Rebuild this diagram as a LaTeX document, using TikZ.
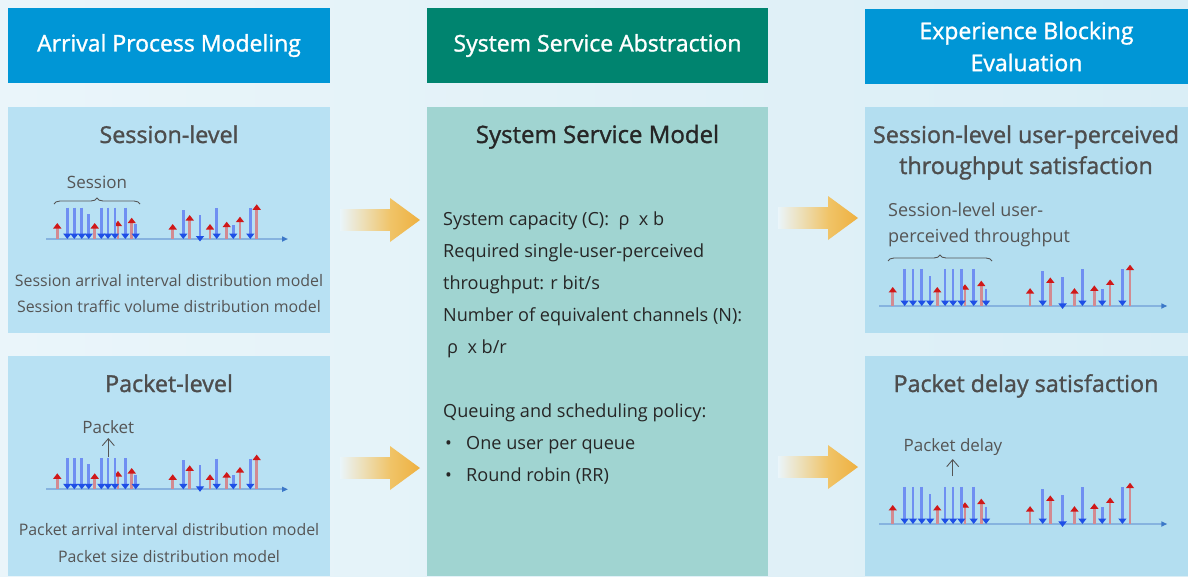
\documentclass[tikz,border=0pt]{standalone}
\usepackage{fontspec}
\setmainfont{Open Sans}
\newfontfamily\medfont{Open Sans}[FakeBold=1.3]
\usetikzlibrary{arrows.meta,decorations.pathreplacing}
\definecolor{hblue}{HTML}{0096D6}
\definecolor{hgreen}{HTML}{00846F}
\definecolor{lpanel}{HTML}{B8E1F3}
\definecolor{rpanel}{HTML}{B3DEF0}
\definecolor{tpanel}{HTML}{A0D4D1}
\definecolor{bgl}{HTML}{EAF5FA}
\definecolor{bgr}{HTML}{DAEEF6}
\definecolor{gtxt}{HTML}{555555}
\definecolor{ttl}{HTML}{4D4D4D}
\definecolor{dtxt}{HTML}{262626}
\definecolor{bstem}{HTML}{6F8FF2}
\definecolor{bhead}{HTML}{1E4FE6}
\definecolor{rstem}{HTML}{D38A91}
\definecolor{rhead}{HTML}{D01818}
\definecolor{axc}{HTML}{86B3DF}
\definecolor{axtip}{HTML}{3C78C8}
\definecolor{orj}{HTML}{EEB040}
\definecolor{orjl}{HTML}{F0C468}
\tikzset{
  hdr/.style={text=white, inner sep=0pt, outer sep=0pt, align=center, font=\medfont\fontsize{23}{32}\selectfont},
  panel/.style={inner sep=0pt, outer sep=0pt},
  ptitle/.style={anchor=base, inner sep=0pt, text=ttl, font=\medfont\fontsize{23.3}{30}\selectfont},
  mtitle/.style={anchor=base, inner sep=0pt, text=dtxt, font=\medfont\fontsize{24}{30}\selectfont},
  desc/.style={anchor=base, inner sep=0pt, text=gtxt, font=\fontsize{15.9}{20}\selectfont},
  body/.style={anchor=base west, inner sep=0pt, text=dtxt, font=\fontsize{18.1}{22}\selectfont},
  small/.style={anchor=base, inner sep=0pt, text=gtxt, font=\fontsize{17}{22}\selectfont},
  smallw/.style={anchor=base west, inner sep=0pt, text=gtxt, font=\fontsize{18}{22}\selectfont},
  redspike/.style={draw=rstem, line width=2.6pt, -{Triangle[length=5.5pt,width=8pt,color=rhead]}},
  bluespike/.style={draw=bstem, line width=2.6pt, -{Triangle[length=5.5pt,width=8pt,color=bhead]}},
  pointer/.style={draw=gtxt, line width=0.9pt, -{Straight Barb[length=7pt,width=12pt]}},
  bracep/.style={draw=gtxt, line width=0.9pt, decorate, decoration={brace, amplitude=6pt}},
  spikes/.pic={
    \draw[draw=axc, line width=2pt, -{Triangle[length=6pt,width=5pt,color=axtip]}] (0,0) -- (242,0);
    \foreach \x/\h in {11.3/16, 48.7/16, 72/18.3, 85.7/21.3, 126.7/15, 143.7/24, 164/15, 180.7/17.3, 194/22.3, 210.7/34.7}
      \draw[redspike] (\x,0) -- (\x,-\h);
    \foreach \x/\h in {21.3/31.3, 28.3/31.3, 35.7/31.3, 42.7/25, 55.3/31.3, 62/31.3, 69/31.3, 79.3/31.3, 89.7/14.7, 137.3/29, 170.7/30.7, 187.3/14, 204.3/30.7}
      \draw[bluespike] (\x,-\h) -- (\x,0);
    \draw[bluespike] (154,-24) -- (154,2.5);
  },
  bigarrow/.pic={
    \shade[left color=bgl, right color=orjl] (0,-10.5) rectangle (50.5,10.5);
    \shade[left color=orjl, right color=orj] (50,-22) -- (80,0) -- (50,22) -- cycle;
  }
}
\begin{document}
\begin{tikzpicture}[x=1pt,y=-1pt]
\shade[left color=bgl, right color=bgr] (0,0) rectangle (1188,576);
\useasboundingbox (0,0) rectangle (1188,576);

% headers
\node[hdr, fill=hblue, minimum width=322pt, minimum height=75pt] (h1) at (169,45.5) {Arrival Process Modeling};
\node[hdr, fill=hgreen, minimum width=341pt, minimum height=75pt] (h2) at (597.5,45.5) {System Service Abstraction};
\node[hdr, fill=hblue, minimum width=323pt, minimum height=75pt] (h3) at (1026.5,46.5) {Experience Blocking\\Evaluation};

% panels
\node[panel, fill=lpanel, minimum width=322pt, minimum height=226pt] (lt) at (169,220) {};
\node[panel, fill=lpanel, minimum width=322pt, minimum height=220pt] (lb) at (169,466) {};
\node[panel, fill=tpanel, minimum width=341pt, minimum height=469pt] (mid) at (597.5,341.5) {};
\node[panel, fill=rpanel, minimum width=323pt, minimum height=226pt] (rt) at (1026.5,220) {};
\node[panel, fill=rpanel, minimum width=323pt, minimum height=220pt] (rb) at (1026.5,466) {};

% big arrows
\pic at (340,220) {bigarrow};
\pic at (340,468) {bigarrow};
\pic at (778,218) {bigarrow};
\pic at (778,467) {bigarrow};

% left top
\node[ptitle] (t1) at (169,143) {Session-level};
\pic at (46,239) {spikes};
\node[small] (sess) at (97,188.5) {Session};
\coordinate (b1a) at (54,204);
\coordinate (b1b) at (140,204);
\draw[bracep] (b1a) -- (b1b);
\node[desc] (d1) at (169,286.5) {Session arrival interval distribution model};
\node[desc] (d2) at (169,312.5) {Session traffic volume distribution model};

% left bottom
\node[ptitle] (t2) at (169,392) {Packet-level};
\pic at (46,489.3) {spikes};
\node[small] (pkt) at (108.3,433.5) {Packet};
\coordinate (pktbase) at (108.3,457);
\draw[pointer] (pktbase) -- (pkt.south |- 0,438);
\node[desc] (d3) at (169,535.5) {Packet arrival interval distribution model};
\node[desc] (d4) at (169,562.5) {Packet size distribution model};

% middle
\node[mtitle] (t3) at (597.5,143) {System Service Model};
\node[body] (m1) at (443,225.5) {System capacity (C):\ \ ρ\ \ x b};
\node[body] (m2) at (443,257.5) {Required single-user-perceived};
\node[body] (m3) at (443,289) {throughput: r bit/s};
\node[body] (m4) at (443,321) {Number of equivalent channels (N):};
\node[body] (m5) at (447,353) {ρ\ \ x b/r};
\node[body] (m6) at (443,417) {Queuing and scheduling policy:};
\node[body] (m7) at (445,449) {•};
\node[body] (m8) at (466,449) {One user per queue};
\node[body] (m9) at (445,481) {•};
\node[body] (m10) at (466,481) {Round robin (RR)};

% right top
\node[ptitle] (t4) at (1026,143) {Session-level user-perceived};
\node[ptitle] (t5) at (1026,174) {throughput satisfaction};
\node[smallw] (s1) at (888,216) {Session-level user-};
\node[smallw] (s2) at (888,242) {perceived throughput};
\coordinate (b2a) at (888,261);
\coordinate (b2b) at (992,261);
\draw[bracep] (b2a) -- (b2b);
\pic[scale=1.19] at (879.3,306) {spikes};

% right bottom
\node[ptitle] (t6) at (1026,392) {Packet delay satisfaction};
\node[small] (pd) at (953,451) {Packet delay};
\coordinate (pdbase) at (952.7,476);
\draw[pointer] (pdbase) -- (952.7,459);
\pic[scale=1.19] at (879.3,524) {spikes};
\end{tikzpicture}
\end{document}
